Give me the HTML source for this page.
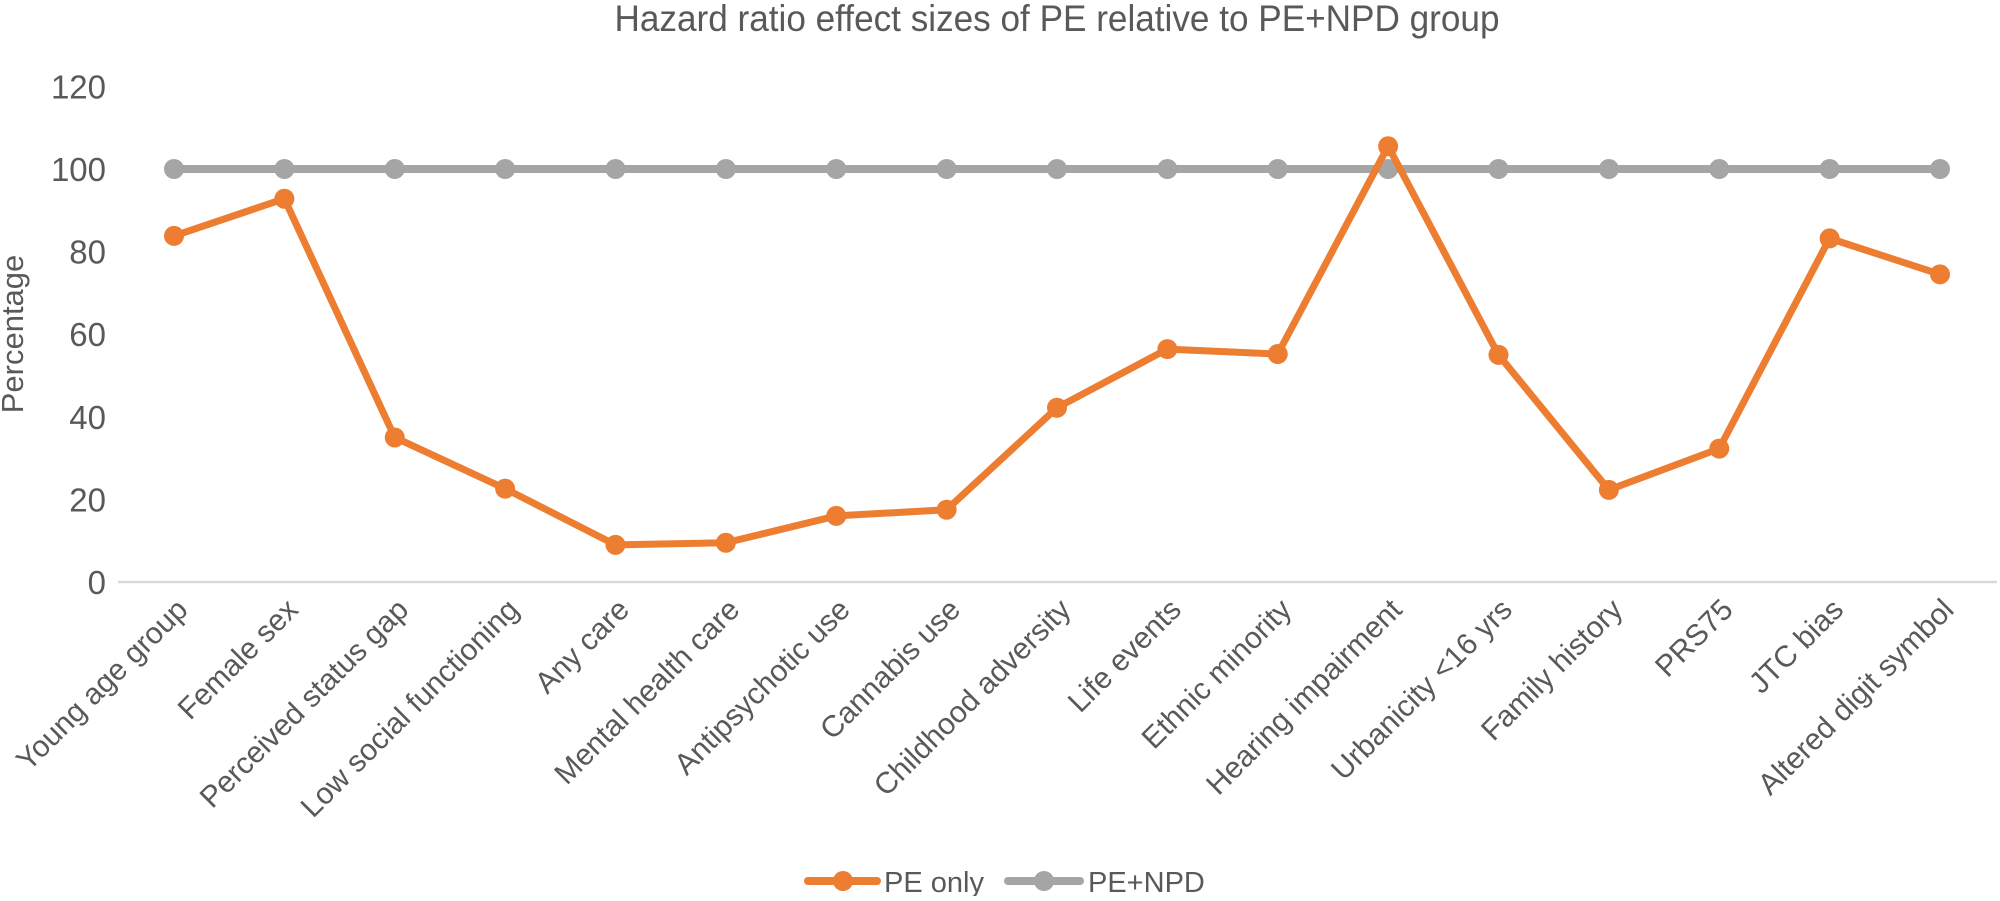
<!DOCTYPE html>
<html><head><meta charset="utf-8"><style>
html,body{margin:0;padding:0;background:#fff;}
svg text{font-family:"Liberation Sans",sans-serif;fill:#595959;}
</style></head><body>
<svg id="chart" width="2000" height="896" xmlns="http://www.w3.org/2000/svg">
<text x="1057" y="31" text-anchor="middle" font-size="37" textLength="885" lengthAdjust="spacingAndGlyphs">Hazard ratio effect sizes of PE relative to PE+NPD group</text>
<text transform="translate(23,334) rotate(-90)" text-anchor="middle" font-size="31">Percentage</text>
<g id="yticks"></g>
<line x1="118" y1="582" x2="1997" y2="582" stroke="#d9d9d9" stroke-width="2.5"/>
<g id="xlabels"></g>
<g id="series"></g>
<g>
<g>
<line x1="808" y1="881" x2="877" y2="881" stroke="#ED7D31" stroke-width="8" stroke-linecap="round"/>
<circle cx="843" cy="881" r="10" fill="#ED7D31"/>
<text x="884" y="892" font-size="29">PE only</text></g>
<g>
<line x1="1008" y1="881" x2="1080" y2="881" stroke="#A5A5A5" stroke-width="8" stroke-linecap="round"/>
<circle cx="1044" cy="881" r="10" fill="#A5A5A5"/>
<text x="1088" y="892" font-size="29">PE+NPD</text></g>
</g>
</svg>
<script>
const categories=["Young age group","Female sex","Perceived status gap","Low social functioning","Any care","Mental health care","Antipsychotic use","Cannabis use","Childhood adversity","Life events","Ethnic minority","Hearing impairment","Urbanicity <16 yrs","Family history","PRS75","JTC bias","Altered digit symbol"];
const peOnly=[83.8,92.8,35,22.6,9,9.5,16,17.5,42.2,56.4,55.2,105.5,55,22.3,32.3,83.2,74.5];
const peNpd=[100,100,100,100,100,100,100,100,100,100,100,100,100,100,100,100,100];
const yTicks=[0,20,40,60,80,100,120];
const NS="http://www.w3.org/2000/svg";
const x0=174,x1=1940,yBase=582,yTop100=169;
function xs(i){return x0+(x1-x0)*i/(categories.length-1);}
function ys(v){return yBase-(yBase-yTop100)*v/100;}
function mk(t,a,p){const e=document.createElementNS(NS,t);for(const k in a)e.setAttribute(k,a[k]);p.appendChild(e);return e;}
const yt=document.getElementById('yticks');
yTicks.forEach(v=>{const t=mk('text',{x:106,y:ys(v)+12,'text-anchor':'end','font-size':33},yt);t.textContent=v;

});
const xl=document.getElementById('xlabels');
categories.forEach((c,i)=>{const x=xs(i)+8,y=604;const t=mk('text',{transform:`translate(${x},${y}) rotate(-45)`,'text-anchor':'end','font-size':30,dy:'0.35em'},xl);t.textContent=c;

});
const sg=document.getElementById('series');
function draw(vals,color,name,w){const g=mk('g',{},sg);


mk('polyline',{points:vals.map((v,i)=>xs(i)+','+ys(v)).join(' '),fill:'none',stroke:color,'stroke-width':w,'stroke-linejoin':'round'},g);
vals.forEach((v,i)=>{const c=mk('circle',{cx:xs(i),cy:ys(v),r:10,fill:color},g);

});}
draw(peNpd,'#A5A5A5','series-pe-npd',8);
draw(peOnly,'#ED7D31','series-pe-only',7);
</script>
</body></html>
